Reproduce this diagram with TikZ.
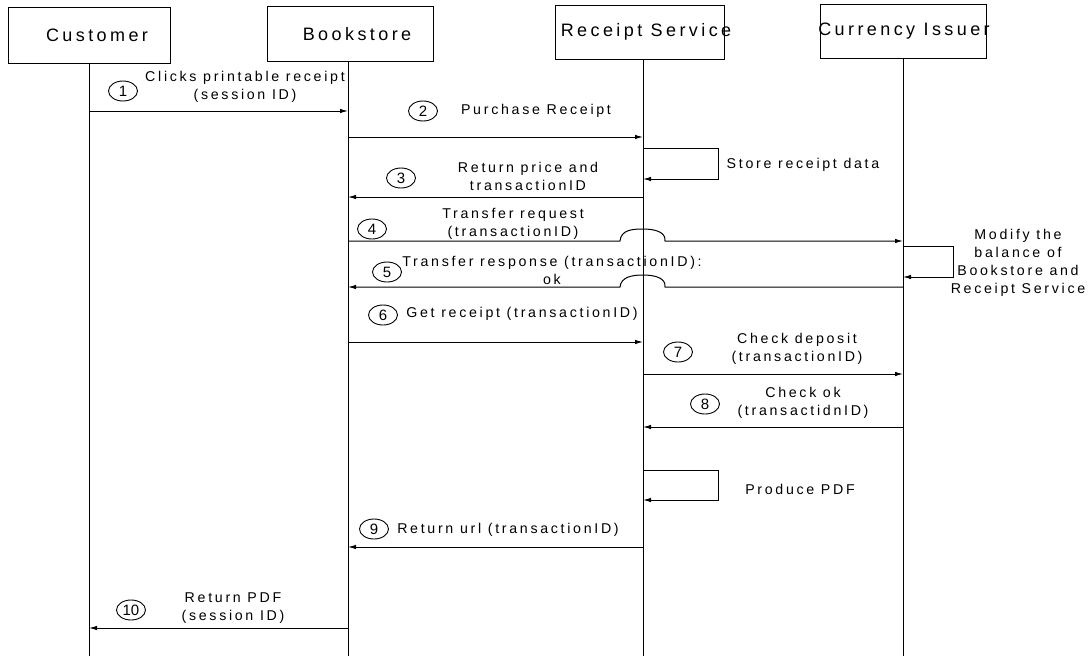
\documentclass[tikz,border=0pt]{standalone}
\usepackage{fontspec}
\usetikzlibrary{arrows.meta,shapes.geometric}
\newfontfamily\hdrfont[LetterSpace=19]{Liberation Sans}
\newfontfamily\lblfont[LetterSpace=19]{Liberation Sans}
\newfontfamily\numfont{Liberation Sans}
\begin{document}
\begin{tikzpicture}[x=1pt,y=-1pt,
  line width=1pt,
  actor/.style={draw, line width=0.9pt, inner sep=0pt},
  hdr/.style={font=\hdrfont\fontsize{18}{21}\selectfont, inner sep=0pt},
  lbl/.style={font=\lblfont\fontsize{14.2}{18}\selectfont, align=center, inner sep=0pt},
  num/.style={ellipse, draw, line width=0.9pt, minimum width=29pt, minimum height=20pt, inner sep=0.5pt, font=\numfont\fontsize{15}{16}\selectfont},
  life/.style={line width=1pt},
  msg/.style={line width=1pt, -{Latex[length=8pt,width=4.5pt]}}
]
\useasboundingbox (0,0) rectangle (1092,656);

% participants
\node[actor, minimum width=162pt, minimum height=56pt] (cust) at (89,35) {};
\node[actor, minimum width=166pt, minimum height=55pt] (book) at (350,34) {};
\node[actor, minimum width=169pt, minimum height=54pt] (recp) at (639.5,32) {};
\node[actor, minimum width=166pt, minimum height=54pt] (curr) at (903,31) {};
\node[hdr] (custt) at (97,35) {Customer};
\node[hdr] (bookt) at (357,34) {Bookstore};
\node[hdr] (recpt) at (646,32) {Receipt Service};
\node[hdr] (currt) at (904,31) {Currency Issuer};

% lifelines
\coordinate (cx) at (89,656);
\coordinate (bx) at (348,656);
\coordinate (rx) at (643,656);
\coordinate (ux) at (903,656);
\draw[life] (89,63) coordinate (c0) -- (cx);
\draw[life] (348,61) coordinate (b0) -- (bx);
\draw[life] (643,59) coordinate (r0) -- (rx);
\draw[life] (903,58) coordinate (u0) -- (ux);

% 1
\coordinate (c1) at (89,111); \coordinate (b1) at (348,111);
\draw[msg] (c1) -- (b1);
\node[num] (n1) at (123,91) {1};
\node[lbl] (t1) at (245,87) {Clicks printable receipt\\(session ID)};

% 2
\coordinate (b2) at (348,137); \coordinate (r2) at (643,137);
\draw[msg] (b2) -- (r2);
\node[num] (n2) at (423,111) {2};
\node[lbl] (t2) at (536,111) {Purchase Receipt};

% store receipt data
\coordinate (r2a) at (643,148); \coordinate (r2b) at (643,179);
\coordinate (s2a) at (718,148); \coordinate (s2b) at (718,179);
\draw[msg] (r2a) -- (s2a) -- (s2b) -- (r2b);
\node[lbl] (t2s) at (803,165) {Store receipt data};

% 3
\coordinate (r3) at (643,197); \coordinate (b3) at (348,197);
\draw[msg] (r3) -- (b3);
\node[num] (n3) at (401,178) {3};
\node[lbl] (t3) at (528,176) {Return price and\\transactionID};

% 4 (hops over the Receipt Service lifeline)
\coordinate (b4) at (348,241); \coordinate (u4) at (903,241);
\coordinate (j4a) at (620,241); \coordinate (j4b) at (665,241);
\draw[msg] (b4) -- (j4a) .. controls (621,230) and (632,229) .. (643,229)
  .. controls (655,229) and (666,232) .. (j4b) -- (u4);
\node[num] (n4) at (372,229) {4};
\node[lbl] (t4) at (513,224) {Transfer request\\(transactionID)};

% modify balance
\coordinate (u4a) at (903,246); \coordinate (u4b) at (903,277);
\coordinate (m4a) at (953,246); \coordinate (m4b) at (953,277);
\draw[msg] (u4a) -- (m4a) -- (m4b) -- (u4b);
\node[lbl] (t4m) at (1018,263) {Modify the\\balance of\\Bookstore and\\Receipt Service};

% 5 (hops over the Receipt Service lifeline)
\coordinate (u5) at (903,287); \coordinate (b5) at (348,287);
\coordinate (j5a) at (665,287); \coordinate (j5b) at (620,287);
\draw[msg] (u5) -- (j5a) .. controls (666,278) and (655,275) .. (643,275)
  .. controls (632,275) and (621,277) .. (j5b) -- (b5);
\node[num] (n5) at (387,272) {5};
\node[lbl] (t5) at (552,270) {Transfer response (transactionID):\\ok};

% 6
\coordinate (b6) at (348,342); \coordinate (r6) at (643,342);
\draw[msg] (b6) -- (r6);
\node[num] (n6) at (383,315) {6};
\node[lbl] (t6) at (522,314) {Get receipt (transactionID)};

% 7
\coordinate (r7) at (643,374); \coordinate (u7) at (903,374);
\draw[msg] (r7) -- (u7);
\node[num] (n7) at (678,352) {7};
\node[lbl] (t7) at (797,349) {Check deposit\\(transactionID)};

% 8
\coordinate (u8) at (903,427); \coordinate (r8) at (643,427);
\draw[msg] (u8) -- (r8);
\node[num] (n8) at (705,404) {8};
\node[lbl] (t8) at (803,403) {Check ok\\(transactidnID)};

% produce PDF
\coordinate (r8a) at (643,470); \coordinate (r8b) at (643,500);
\coordinate (p8a) at (718,470); \coordinate (p8b) at (718,500);
\draw[msg] (r8a) -- (p8a) -- (p8b) -- (r8b);
\node[lbl] (t8p) at (800,489) {Produce PDF};

% 9
\coordinate (r9) at (643,547); \coordinate (b9) at (348,547);
\draw[msg] (r9) -- (b9);
\node[num] (n9) at (374,529) {9};
\node[lbl] (t9) at (508,530) {Return url (transactionID)};

% 10
\coordinate (b10) at (348,628); \coordinate (c10) at (89,628);
\draw[msg] (b10) -- (c10);
\node[num] (n10) at (131,610) {10};
\node[lbl] (t10) at (233,608) {Return PDF\\(session ID)};
\end{tikzpicture}
\end{document}
